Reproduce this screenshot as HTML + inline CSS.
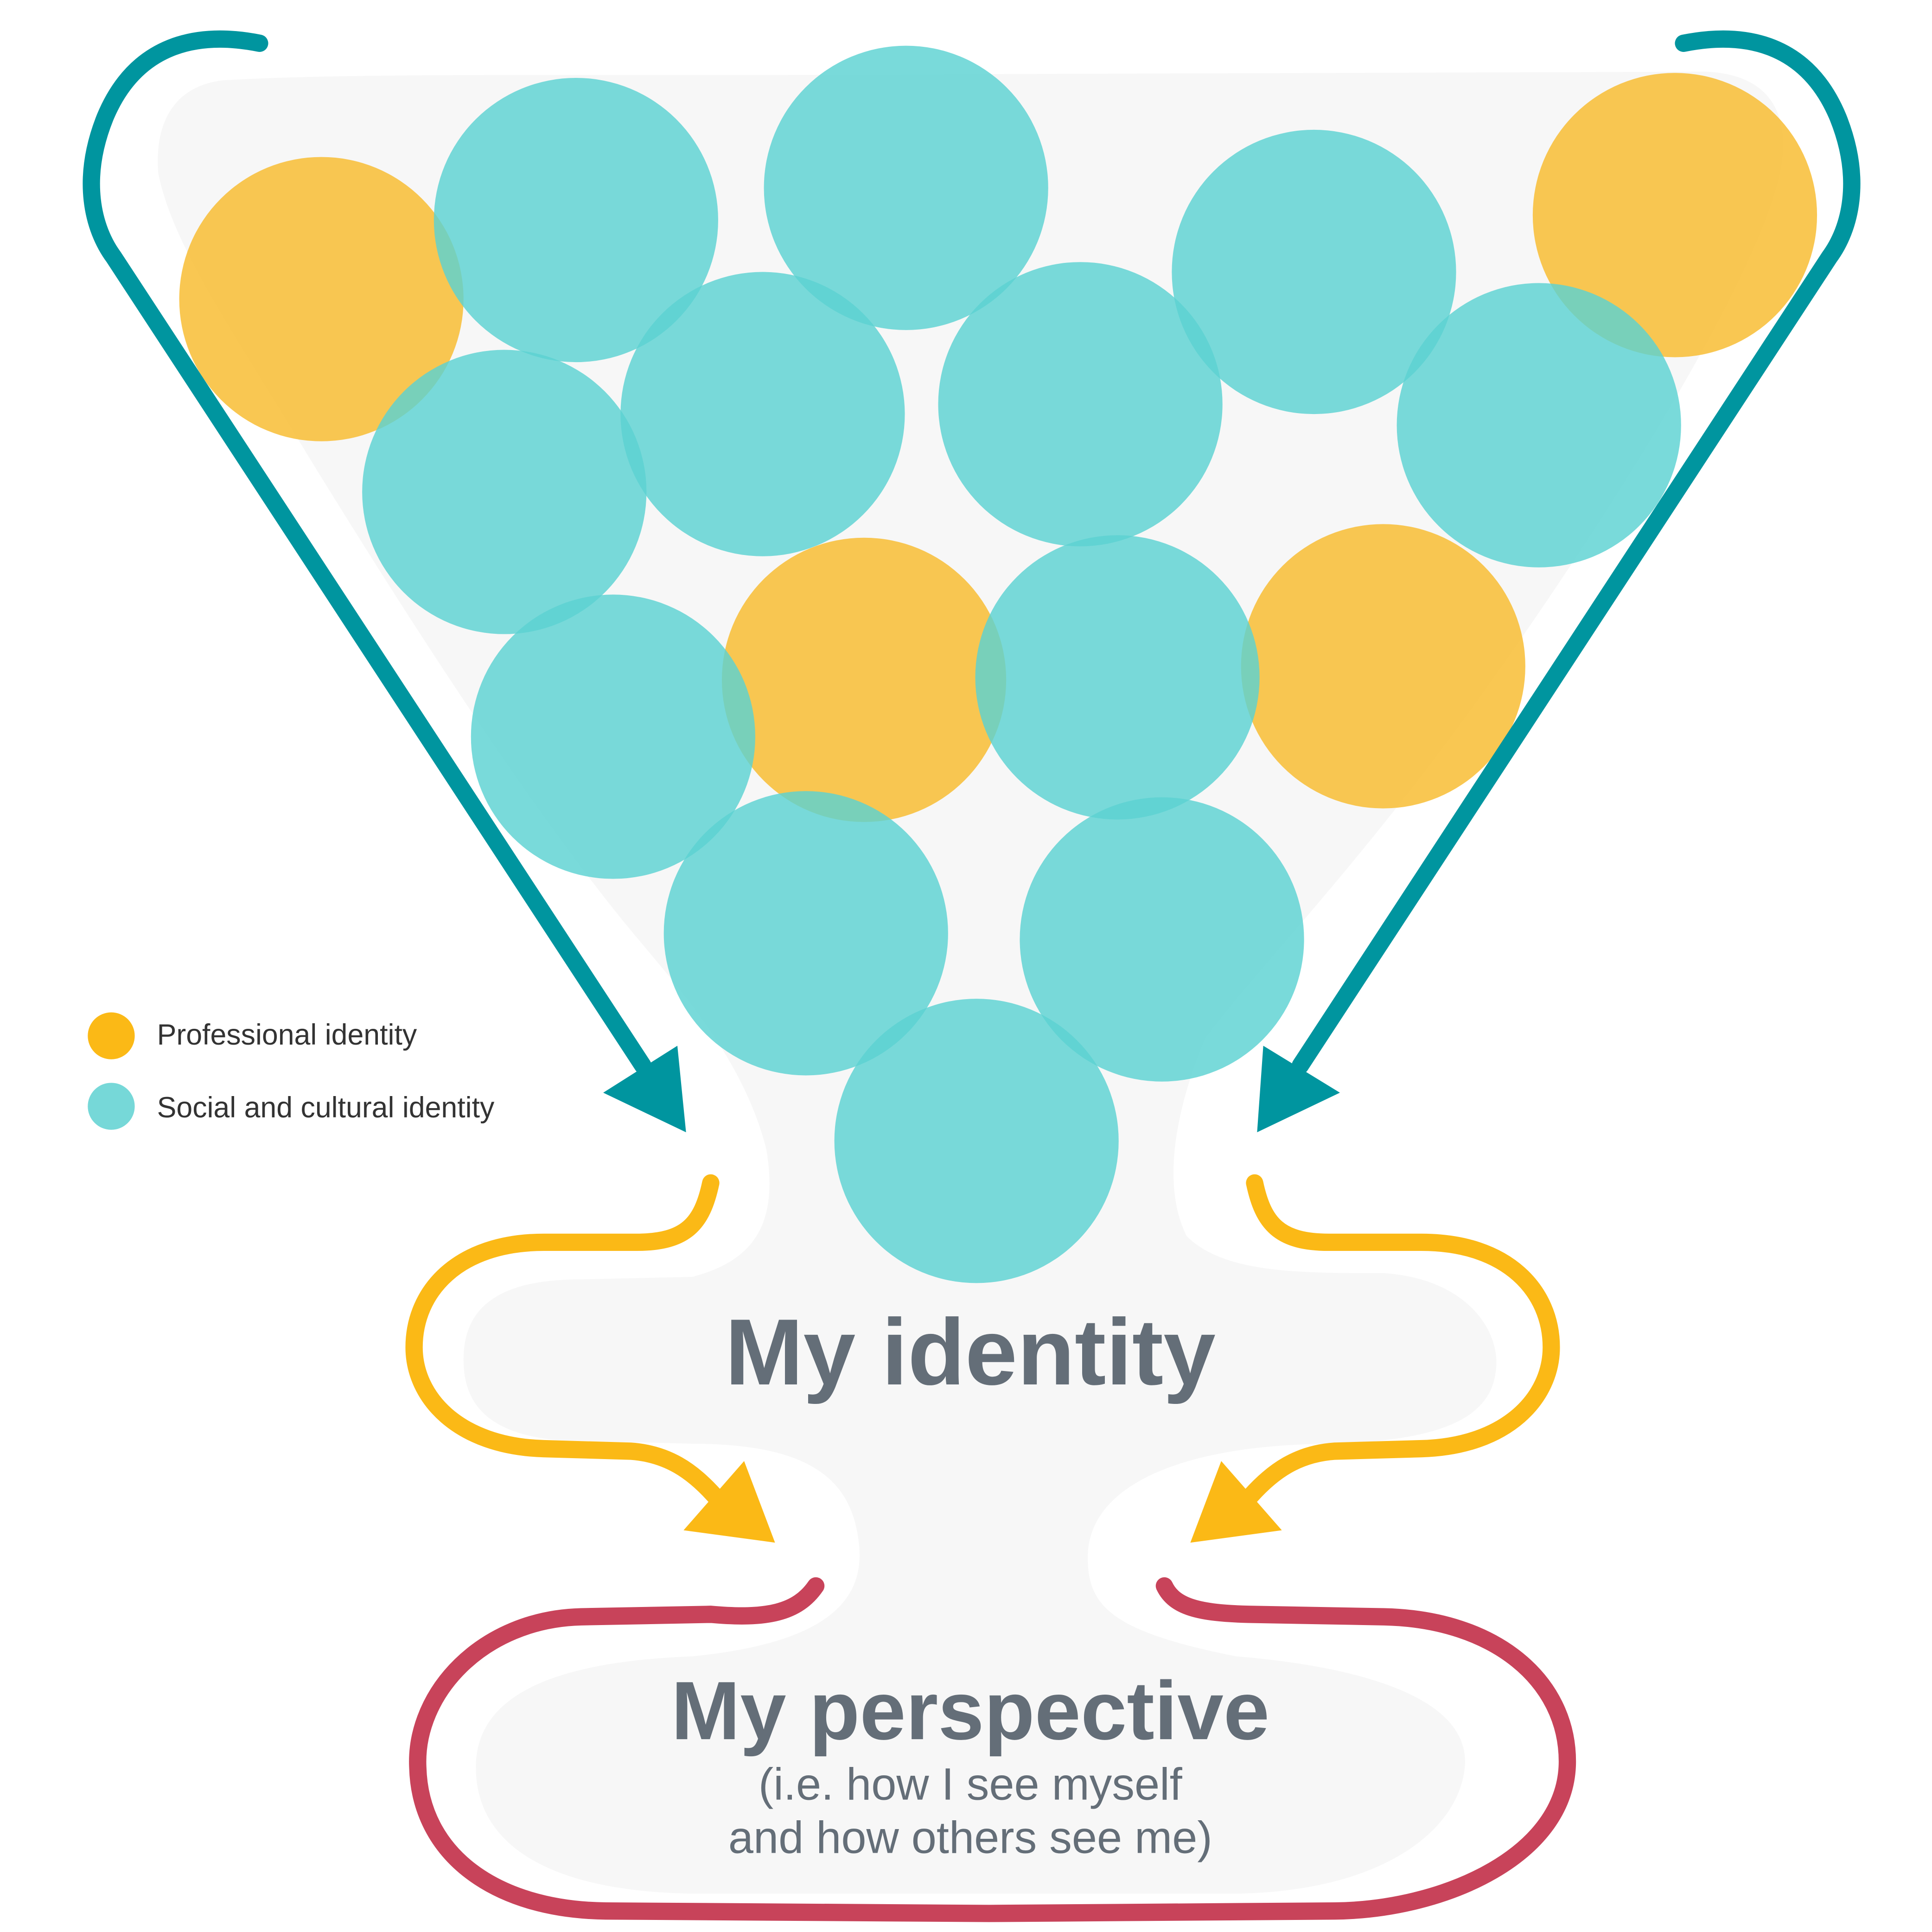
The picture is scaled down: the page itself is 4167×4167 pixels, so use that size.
<!DOCTYPE html>
<html><head><meta charset="utf-8"><style>
html,body{margin:0;padding:0;background:#fff;}
svg{display:block;}
text{font-family:"Liberation Sans",sans-serif;}
</style></head><body>
<svg width="4167" height="4167" viewBox="0 0 1563 1563" xmlns="http://www.w3.org/2000/svg">
<path fill="#f7f7f7" d="M180,65 C300,58 500,62 780,60 L1380,58 C1430,60 1450,90 1440,140 C1420,230 1300,420 1200,560 C1100,700 1020,780 975,840 C950,900 940,960 960,1000 C990,1030 1050,1030 1120,1030 C1190,1035 1215,1080 1210,1110 C1205,1150 1160,1165 1080,1168 C960,1168 880,1200 880,1260 C880,1300 900,1320 1000,1340 C1120,1350 1190,1380 1185,1430 C1180,1480 1120,1530 1000,1532 L560,1532 C440,1530 385,1490 385,1430 C385,1380 430,1345 560,1340 C660,1330 700,1300 695,1250 C690,1200 660,1168 560,1168 L450,1165 C400,1160 375,1140 375,1100 C375,1060 400,1035 470,1035 L560,1033 C610,1020 630,990 620,930 C600,850 540,790 500,740 C420,640 330,500 250,370 C190,270 140,200 128,140 C125,100 140,70 180,65 Z"/>
<g fill-opacity="0.82">
<circle cx="260" cy="242" r="115" fill="#f8bb2c"/>
<circle cx="1355" cy="174" r="115" fill="#f8bb2c"/>
<circle cx="466" cy="178" r="115" fill="#5cd2d2"/>
<circle cx="733" cy="152" r="115" fill="#5cd2d2"/>
<circle cx="1063" cy="220" r="115" fill="#5cd2d2"/>
<circle cx="617" cy="335" r="115" fill="#5cd2d2"/>
<circle cx="874" cy="327" r="115" fill="#5cd2d2"/>
<circle cx="1245" cy="344" r="115" fill="#5cd2d2"/>
<circle cx="408" cy="398" r="115" fill="#5cd2d2"/>
<circle cx="699" cy="550" r="115" fill="#f8bb2c"/>
<circle cx="1119" cy="539" r="115" fill="#f8bb2c"/>
<circle cx="496" cy="596" r="115" fill="#5cd2d2"/>
<circle cx="904" cy="548" r="115" fill="#5cd2d2"/>
<circle cx="652" cy="755" r="115" fill="#5cd2d2"/>
<circle cx="940" cy="760" r="115" fill="#5cd2d2"/>
<circle cx="790" cy="923" r="115" fill="#5cd2d2"/>
</g>
<g fill="none" stroke="#00959f" stroke-width="14" stroke-linecap="round" stroke-linejoin="round">
<path d="M210,35 C160,25 110,35 85,95 C65,145 75,185 92,208 L520,862"/>
<path d="M1362,35 C1412,25 1462,35 1487,95 C1507,145 1497,185 1480,208 L1052,862"/>
</g>
<g fill="#00959f">
<polygon points="488,884 548,846 555,916"/>
<polygon points="1084,884 1022,846 1017,916"/>
</g>
<g fill="none" stroke="#fbb916" stroke-width="14" stroke-linecap="round" stroke-linejoin="round">
<path d="M575,957 C568,990 555,1005 515,1005 L440,1005 C370,1005 335,1045 335,1090 C335,1130 370,1170 440,1172 L510,1174 C540,1176 560,1190 578,1210"/>
<path d="M1015,957 C1022,990 1035,1005 1075,1005 L1150,1005 C1220,1005 1255,1045 1255,1090 C1255,1130 1220,1170 1150,1172 L1080,1174 C1050,1176 1030,1190 1012,1210"/>
</g>
<g fill="#fbb916">
<polygon points="553,1238 602,1182 627,1248"/>
<polygon points="1037,1238 988,1182 963,1248"/>
</g>
<path fill="none" stroke="#c8435a" stroke-width="14" stroke-linecap="round" stroke-linejoin="round" d="M660,1283 C645,1305 620,1310 575,1306 L470,1308 C390,1310 335,1370 338,1430 C340,1500 400,1545 490,1546 L800,1548 L1080,1546 C1170,1545 1268,1500 1268,1425 C1268,1360 1210,1310 1120,1308 L1010,1306 C970,1305 950,1300 942,1283"/>
<circle cx="90" cy="838" r="19" fill="#fbb916"/>
<circle cx="90" cy="895" r="19" fill="#76d8d8"/>
<text x="127" y="845" font-size="23.5" fill="#333">Professional identity</text>
<text x="127" y="904" font-size="23.5" fill="#333">Social and cultural identity</text>
<text x="785" y="1120" font-size="76" font-weight="bold" fill="#646e78" text-anchor="middle">My identity</text>
<text x="785" y="1407" font-size="67" font-weight="bold" fill="#646e78" text-anchor="middle">My perspective</text>
<text x="785" y="1456" font-size="36.5" fill="#646e78" text-anchor="middle">(i.e. how I see myself</text>
<text x="785" y="1499" font-size="36.5" fill="#646e78" text-anchor="middle">and how others see me)</text>
</svg>
</body></html>
